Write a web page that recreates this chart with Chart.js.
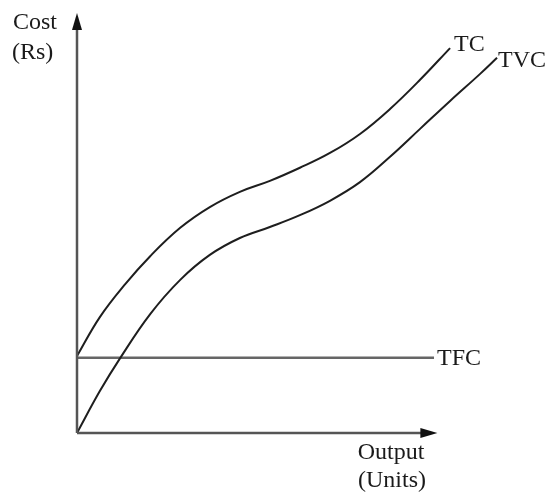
<!DOCTYPE html>
<html lang="en">
<head>
    <meta charset="UTF-8">
    <title>Cost Curves</title>
    <script src="https://cdn.jsdelivr.net/npm/chart.js"></script>
    <style>
        html, body {
            margin: 0;
            padding: 0;
            background: #fff;
        }
        .container {
            width: 548px;
            height: 495px;
            position: relative;
        }
    </style>
</head>
<body>

    <div class="container">
        <canvas id="costChart"></canvas>
    </div>

    <script>
        // Output levels (x) and cost levels (y)
        const tvcOutput = [0, 0.54, 1.02, 1.73, 2.44, 3.14, 3.85, 4.56, 5.27, 5.98, 6.69, 7.40, 8.11, 8.82, 9.53, 9.93];
        const tvcCost   = [0, 0.99, 1.77, 2.81, 3.62, 4.21, 4.61, 4.87, 5.15, 5.49, 5.93, 6.53, 7.19, 7.85, 8.49, 8.87];

        const tcOutput = [0, 0.54, 1.14, 1.73, 2.44, 3.14, 3.85, 4.56, 5.27, 5.98, 6.69, 7.40, 8.11, 8.82];
        const tcCost   = [1.82, 2.74, 3.52, 4.18, 4.85, 5.34, 5.70, 5.96, 6.27, 6.62, 7.07, 7.66, 8.35, 9.10];

        const tfcOutput = [0, 8.44];
        const tfcCost   = [1.78, 1.78];

        const toPoints = (xs, ys) => xs.map((x, i) => ({ x: x, y: ys[i] }));

        const FONT = '24px "Liberation Serif", "Times New Roman", serif';

        // Axes with arrow heads plus the text labels
        const decorPlugin = {
            id: 'decor',
            afterDatasetsDraw(chart) {
                const ctx = chart.ctx;
                const xs = chart.scales.x, ys = chart.scales.y;
                const ox = xs.getPixelForValue(0), oy = ys.getPixelForValue(0);
                const yTop = ys.getPixelForValue(9.93);
                const xEnd = xs.getPixelForValue(8.52);

                ctx.save();
                ctx.strokeStyle = '#555';
                ctx.lineWidth = 2.5;
                ctx.beginPath();
                ctx.moveTo(ox, oy);
                ctx.lineTo(ox, yTop + 10);
                ctx.moveTo(ox, oy);
                ctx.lineTo(xEnd - 10, oy);
                ctx.stroke();

                ctx.fillStyle = '#111';
                ctx.beginPath();
                ctx.moveTo(ox, yTop);
                ctx.lineTo(ox - 5, yTop + 17);
                ctx.lineTo(ox + 5, yTop + 17);
                ctx.closePath();
                ctx.fill();
                ctx.beginPath();
                ctx.moveTo(xEnd, oy);
                ctx.lineTo(xEnd - 17, oy - 5);
                ctx.lineTo(xEnd - 17, oy + 5);
                ctx.closePath();
                ctx.fill();

                ctx.font = FONT;
                ctx.fillStyle = '#1a1a1a';
                ctx.textBaseline = 'middle';
                ctx.textAlign = 'left';
                ctx.fillText('Cost', 13, 23);
                ctx.fillText('(Rs)', 12, 53);

                const tcLast = chart.getDatasetMeta(0).data.at(-1);
                ctx.fillText('TC', tcLast.x + 4, tcLast.y - 3);
                const tvcLast = chart.getDatasetMeta(1).data.at(-1);
                ctx.fillText('TVC', tvcLast.x + 1, tvcLast.y + 3);
                const tfcLast = chart.getDatasetMeta(2).data.at(-1);
                ctx.fillText('TFC', tfcLast.x + 3, tfcLast.y + 1);

                ctx.textAlign = 'center';
                ctx.fillText('Output', 391, 453);
                ctx.fillText('(Units)', 392, 481);
                ctx.restore();
            }
        };

        new Chart(document.getElementById('costChart'), {
            type: 'line',
            data: {
                datasets: [
                    {
                        label: 'TC',
                        data: toPoints(tcOutput, tcCost),
                        borderColor: '#1e1e1e',
                        borderWidth: 2,
                        tension: 0.4
                    },
                    {
                        label: 'TVC',
                        data: toPoints(tvcOutput, tvcCost),
                        borderColor: '#1e1e1e',
                        borderWidth: 2,
                        tension: 0.4
                    },
                    {
                        label: 'TFC',
                        data: toPoints(tfcOutput, tfcCost),
                        borderColor: '#666',
                        borderWidth: 2.5
                    }
                ]
            },
            options: {
                responsive: true,
                maintainAspectRatio: false,
                animation: false,
                layout: { padding: { left: 77, right: 48, top: 10, bottom: 62 } },
                elements: { point: { radius: 0 } },
                plugins: {
                    legend: { display: false },
                    tooltip: { enabled: false }
                },
                scales: {
                    x: { type: 'linear', min: 0, max: 10, display: false },
                    y: { type: 'linear', min: 0, max: 10, display: false }
                }
            },
            plugins: [decorPlugin]
        });
    </script>

</body>
</html>
